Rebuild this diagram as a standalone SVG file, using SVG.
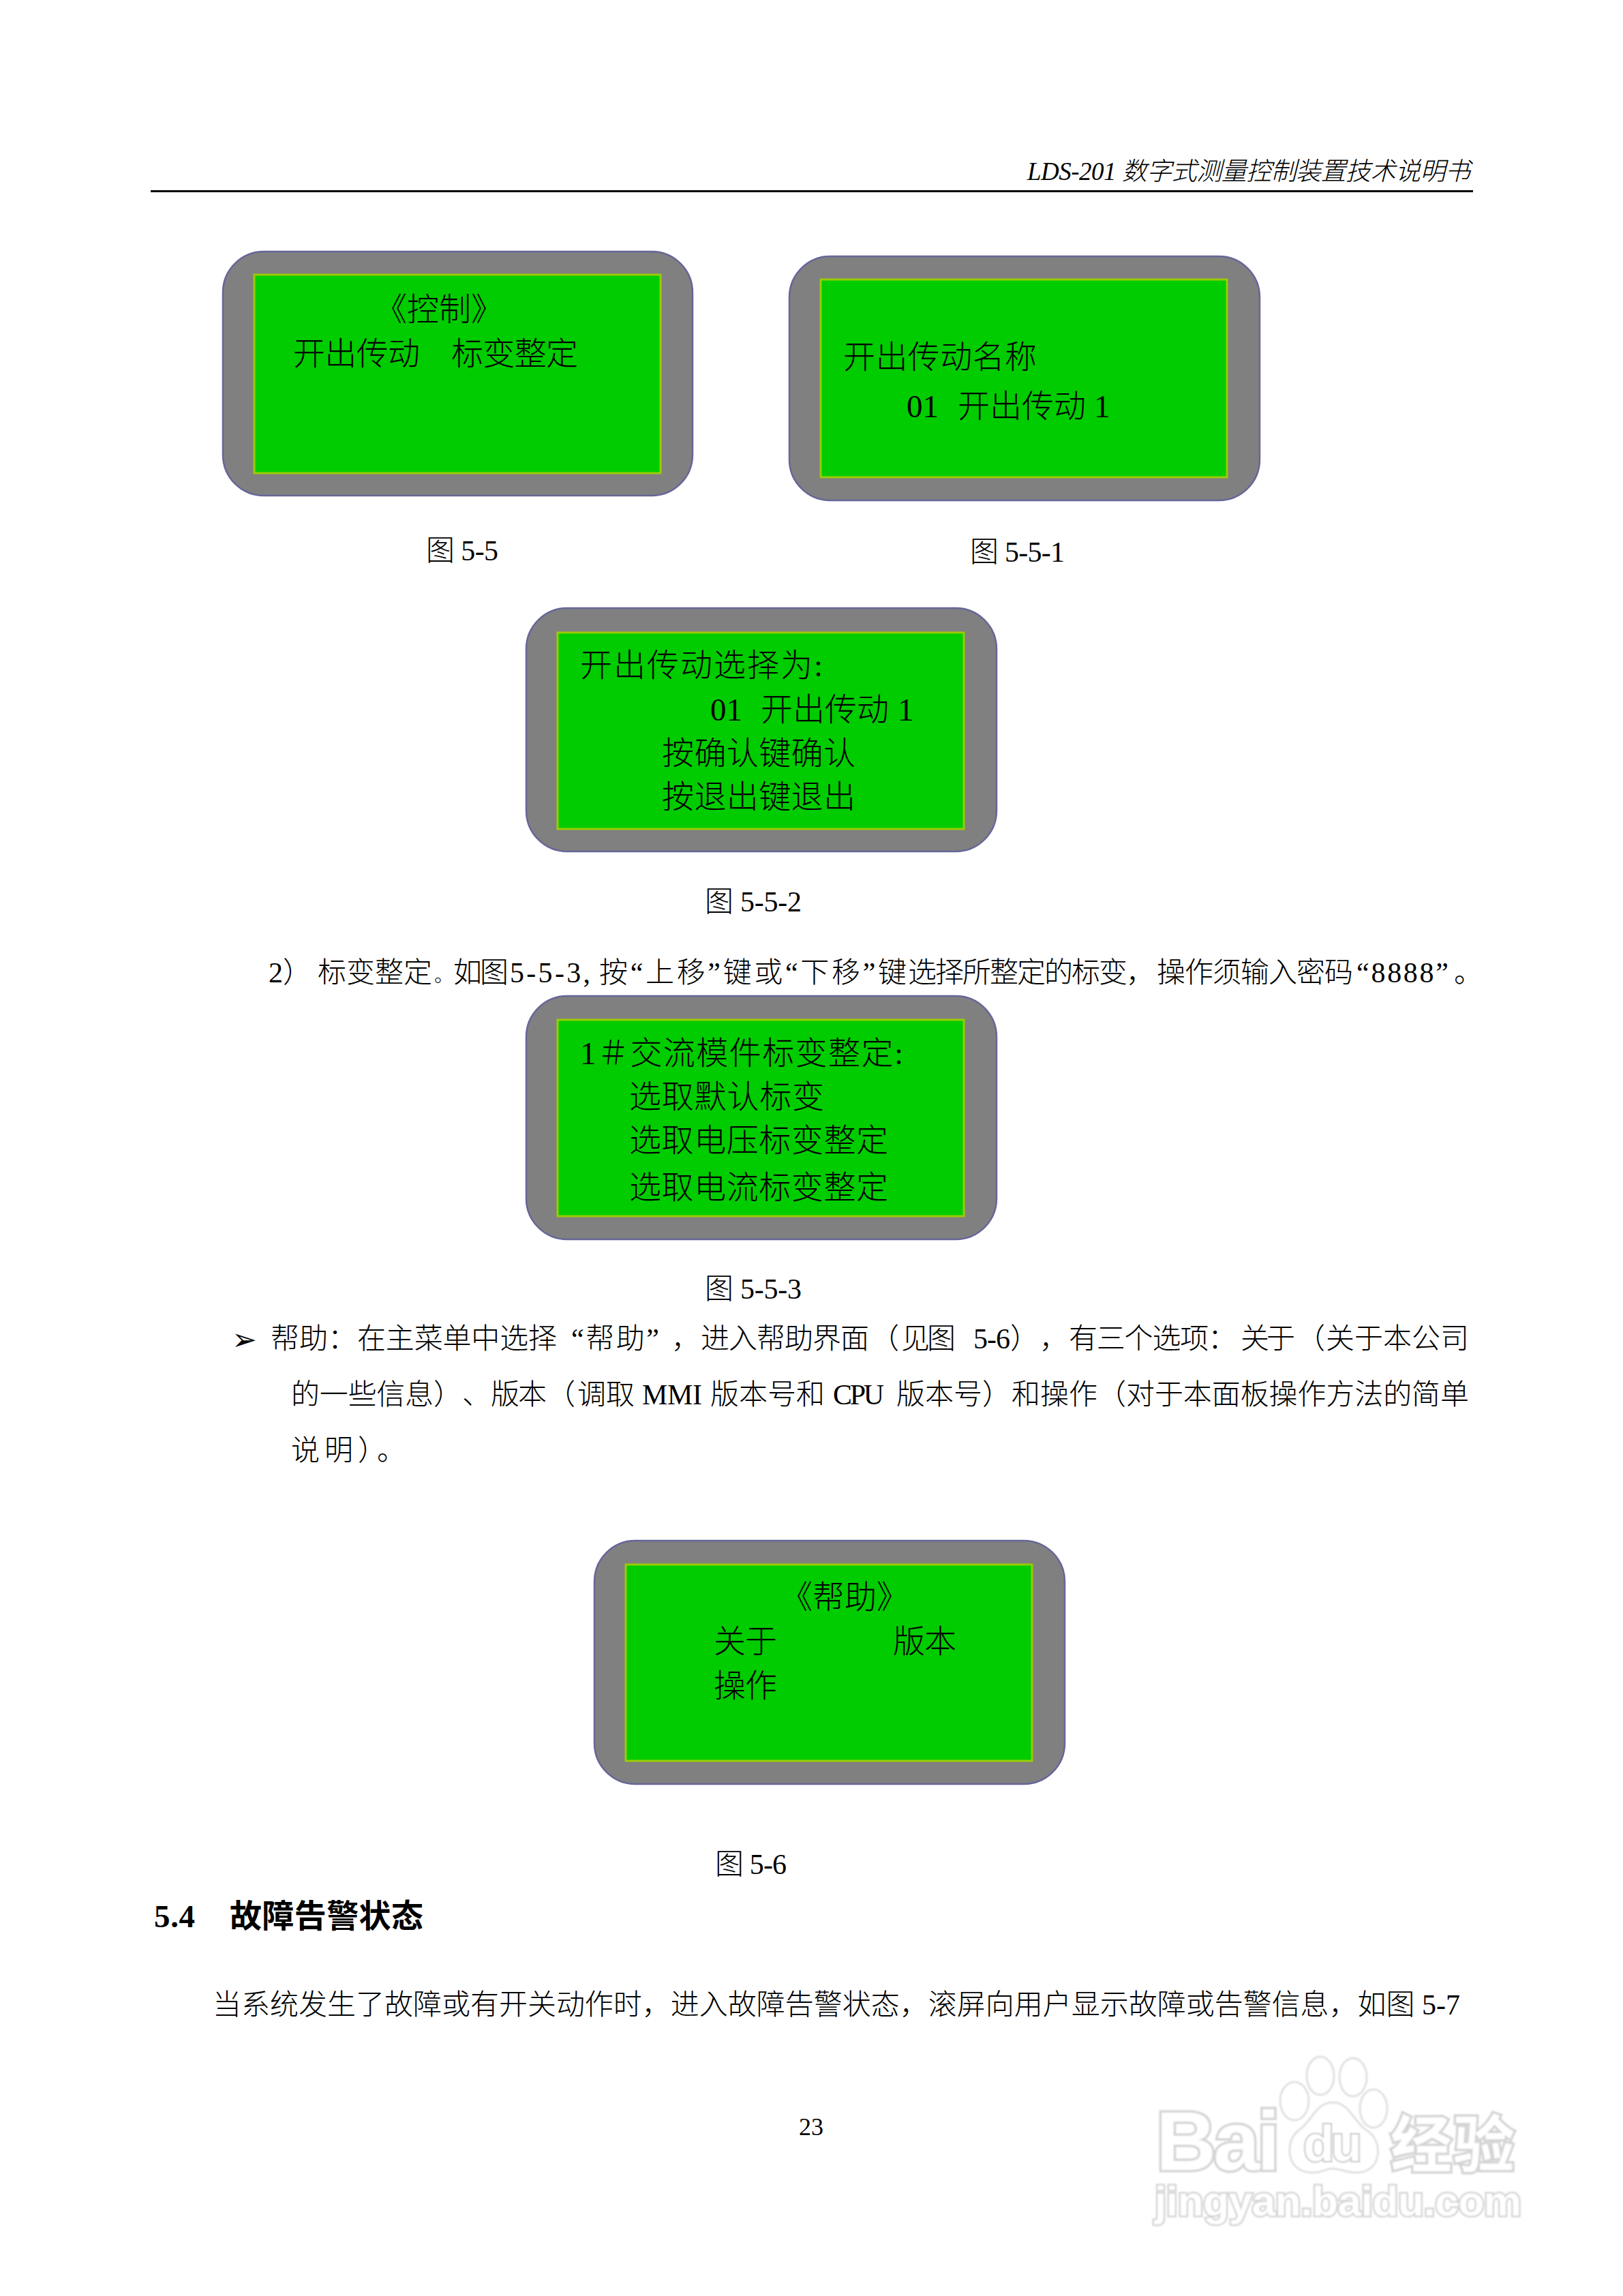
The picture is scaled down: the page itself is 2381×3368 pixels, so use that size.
<svg xmlns="http://www.w3.org/2000/svg" width="2381" height="3368" viewBox="0 0 2381 3368">
<defs><filter id="soft" x="-5%" y="-5%" width="110%" height="110%"><feGaussianBlur stdDeviation="1"/></filter></defs>
<style>
text{font-family:"Liberation Serif","Noto Sans CJK SC",serif;fill:#000;font-weight:300}
.p{font-size:47px}
.c{font-size:42px}
.h{font-size:37px;font-style:italic}
.b{font-size:42px}
.t{font-size:47px;font-weight:700}
.outer{fill:#808080;stroke:#666699;stroke-width:2.5}
.inner{fill:#00CC00;stroke:#99CC00;stroke-width:3}
.wm{fill:#fff;stroke:#d4d4d4;stroke-width:7;paint-order:stroke;font-family:"Liberation Sans","Noto Sans CJK SC",sans-serif;font-weight:700}
.paw{fill:#fff;stroke:#e0e0e0;stroke-width:3}
</style>
<rect width="2381" height="3368" fill="#fff"/>
<g id="header">
<text class="h" x="1507" y="264" textLength="650">LDS-201 数字式测量控制装置技术说明书</text>
<rect x="221" y="279" width="1940" height="3"/>
</g>
<g id="connectors"/>
<g id="panel-5-5">
<rect class="outer" x="327" y="369" width="689" height="358" rx="60" ry="60"/>
<rect class="inner" x="373" y="403" width="596" height="291"/>
<text class="p" x="550" y="470" textLength="188">《控制》</text>
<text class="p" x="430" y="535" textLength="186">开出传动</text>
<text class="p" x="662" y="535" textLength="186">标变整定</text>
</g>
<text class="c" id="cap-5-5" x="625" y="822" textLength="106">图 5-5</text>
<g id="panel-5-5-1">
<rect class="outer" x="1158" y="376" width="690" height="358" rx="60" ry="60"/>
<rect class="inner" x="1204" y="410" width="596" height="290"/>
<text class="p" x="1237" y="540" textLength="284">开出传动名称</text>
<text class="p" x="1330" y="612">01</text>
<text class="p" x="1405" y="612" textLength="188">开出传动</text>
<text class="p" x="1605" y="612">1</text>
</g>
<text class="c" id="cap-5-5-1" x="1423" y="824" textLength="139">图 5-5-1</text>
<g id="panel-5-5-2">
<rect class="outer" x="772" y="892" width="690" height="357" rx="60" ry="60"/>
<rect class="inner" x="818" y="928" width="596" height="288"/>
<text class="p" x="851" y="992" textLength="356">开出传动选择为:</text>
<text class="p" x="1042" y="1057">01</text>
<text class="p" x="1116" y="1057" textLength="188">开出传动</text>
<text class="p" x="1317" y="1057">1</text>
<text class="p" x="971" y="1121" textLength="284">按确认键确认</text>
<text class="p" x="971" y="1185" textLength="284">按退出键退出</text>
</g>
<text class="c" id="cap-5-5-2" x="1034" y="1337" textLength="142">图 5-5-2</text>
<g id="para-2">
<text class="b" x="394" y="1441">2）</text>
<text class="b" x="466" y="1441" textLength="168">标变整定</text>
<text x="637" y="1441" style="font-size:28px">。</text>
<text class="b" x="665" y="1441" textLength="81">如图</text>
<text class="b" x="748" y="1441" textLength="118">5-5-3,</text>
<text class="b" x="879" y="1441" textLength="451">按“上移”键或“下移”键</text>
<text class="b" x="1332" y="1441" textLength="362">选择所整定的标变，</text>
<text class="b" x="1697" y="1441" textLength="288">操作须输入密码</text>
<text class="b" x="1990" y="1441" textLength="135">“8888”</text>
<text class="b" x="2133" y="1441">。</text>
</g>
<g id="panel-5-5-3">
<rect class="outer" x="772" y="1461" width="690" height="357" rx="60" ry="60"/>
<rect class="inner" x="818" y="1496" width="596" height="288"/>
<text class="p" x="851" y="1561" textLength="474">1＃交流模件标变整定:</text>
<text class="p" x="923" y="1625" textLength="286">选取默认标变</text>
<text class="p" x="923" y="1689" textLength="380">选取电压标变整定</text>
<text class="p" x="923" y="1758" textLength="380">选取电流标变整定</text>
</g>
<text class="c" id="cap-5-5-3" x="1034" y="1905" textLength="142">图 5-5-3</text>
<g id="help-para">
<text style="font-family:'DejaVu Sans',sans-serif;font-size:44px;font-weight:400" x="340" y="1980">➢</text>
<text class="b" x="397" y="1978">帮助：</text>
<text class="b" x="524" y="1978" textLength="293">在主菜单中选择</text>
<text class="b" x="838" y="1978" textLength="129">“帮助”</text>
<text class="b" x="985" y="1978">，</text>
<text class="b" x="1028" y="1978" textLength="247">进入帮助界面</text>
<text class="b" x="1277" y="1978">（</text>
<text class="b" x="1322" y="1978" textLength="80">见图</text>
<text class="b" x="1428" y="1978" textLength="54">5-6</text>
<text class="b" x="1482" y="1978">）</text>
<text class="b" x="1525" y="1978">，</text>
<text class="b" x="1568" y="1978" textLength="246">有三个选项：</text>
<text class="b" x="1820" y="1978" textLength="80">关于</text>
<text class="b" x="1902" y="1978">（</text>
<text class="b" x="1945" y="1978" textLength="210">关于本公司</text>
<text class="b" x="427" y="2060" textLength="209">的一些信息</text>
<text class="b" x="636" y="2060">）</text>
<text class="b" x="678" y="2060">、</text>
<text class="b" x="720" y="2060" textLength="82">版本</text>
<text class="b" x="802" y="2060">（</text>
<text class="b" x="847" y="2060" textLength="84">调取</text>
<text class="b" x="942" y="2060" textLength="88">MMI</text>
<text class="b" x="1042" y="2060" textLength="168">版本号和</text>
<text class="b" x="1222" y="2060" textLength="75">CPU</text>
<text class="b" x="1315" y="2060" textLength="126">版本号</text>
<text class="b" x="1441" y="2060">）</text>
<text class="b" x="1484" y="2060" textLength="126">和操作</text>
<text class="b" x="1610" y="2060">（</text>
<text class="b" x="1652" y="2060" textLength="503">对于本面板操作方法的简单</text>
<text class="b" x="427" y="2142" textLength="168">说明）。</text>
</g>
<g id="panel-5-6">
<rect class="outer" x="872" y="2260" width="690" height="357" rx="60" ry="60"/>
<rect class="inner" x="918" y="2295" width="596" height="288"/>
<text class="p" x="1145" y="2359" textLength="188">《帮助》</text>
<text class="p" x="1047" y="2424" textLength="93">关于</text>
<text class="p" x="1310" y="2424" textLength="93">版本</text>
<text class="p" x="1047" y="2489" textLength="93">操作</text>
</g>
<text class="c" id="cap-5-6" x="1049" y="2749" textLength="105">图 5-6</text>
<g id="section">
<text class="t" x="226" y="2827" textLength="60">5.4</text>
<text class="t" x="337" y="2827" textLength="284">故障告警状态</text>
<text class="b" x="312" y="2955" textLength="1830">当系统发生了故障或有开关动作时，进入故障告警状态，滚屏向用户显示故障或告警信息，如图 5-7</text>
</g>
<text id="page-number" style="font-size:36px" x="1172" y="3132">23</text>
<g id="watermark" filter="url(#soft)">
<ellipse class="paw" cx="1899" cy="3082" rx="21" ry="28"/>
<ellipse class="paw" cx="1937" cy="3045" rx="20" ry="28"/>
<ellipse class="paw" cx="1985" cy="3047" rx="20" ry="28"/>
<ellipse class="paw" cx="2015" cy="3093" rx="20" ry="28"/>
<text class="wm" x="1696" y="3183" font-size="122" textLength="182">Bai</text>
<path class="paw" d="M1955 3084C1930 3084 1925 3112 1905 3125C1885 3140 1885 3187 1925 3187C1940 3187 1945 3181 1955 3181C1965 3181 1975 3187 1990 3187C2028 3187 2030 3140 2005 3125C1985 3112 1980 3084 1955 3084Z"/>
<text class="wm" x="1912" y="3170" font-size="74" textLength="86" style="stroke-width:4;stroke:#c4c4c4">du</text>
<text class="wm" x="2040" y="3178" font-size="90" textLength="182">经验</text>
<text class="wm" x="1694" y="3250" font-size="62" textLength="538" style="stroke-width:5">jingyan.baidu.com</text>
</g>
</svg>
